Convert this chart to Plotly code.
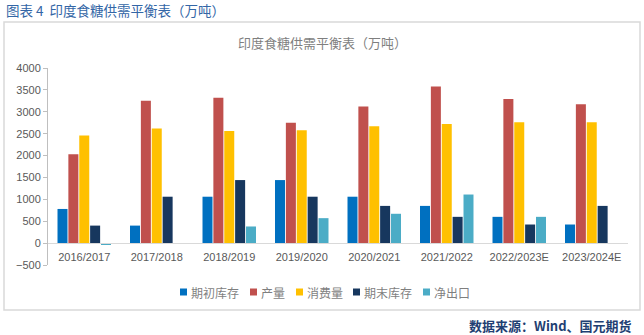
import plotly.graph_objects as go

categories = ["2016/2017", "2017/2018", "2018/2019", "2019/2020", "2020/2021",
              "2021/2022", "2022/2023E", "2023/2024E"]
opening_stock = [780, 400, 1060, 1440, 1060, 850, 600, 425]
production = [2030, 3250, 3320, 2750, 3120, 3580, 3290, 3170]
consumption = [2460, 2620, 2560, 2580, 2670, 2720, 2760, 2760]
closing_stock = [400, 1060, 1440, 1060, 850, 600, 425, 850]
net_export = [-30, -20, 380, 570, 670, 1110, 600, 0]

series_names = ["期初库存", "产量", "消费量", "期末库存", "净出口"]
series_values = [opening_stock, production, consumption, closing_stock, net_export]
colors = ["#0070C0", "#C0504D", "#FFC000", "#17375E", "#4BACC6"]

y_ticks = [-500, 0, 500, 1000, 1500, 2000, 2500, 3000, 3500, 4000]

# plot-area geometry in pixels (for converting paper coordinates)
L, R, T, B = 48, 628, 68, 265
W, H = R - L, B - T


def px(xp):
    return (xp - L) / W


def py(yp):
    return (B - yp) / H


fig = go.Figure()
for name, vals, col in zip(series_names, series_values, colors):
    fig.add_trace(go.Bar(x=categories, y=vals, name=name, marker_color=col,
                         marker_line_width=0, showlegend=False))

font_cjk = "Noto Sans CJK SC"

# custom legend (small squares + labels), matching the reference's compact legend
legend_x = [180, 250, 296, 353, 423]
shapes = [dict(type="rect", xref="paper", yref="paper",
               x0=px(4), x1=px(640), y0=py(310), y1=py(22),
               line=dict(color="#D9D9D9", width=1.5), fillcolor="rgba(0,0,0,0)",
               layer="below")]
annotations = []
for name, col, lx in zip(series_names, colors, legend_x):
    shapes.append(dict(type="rect", xref="paper", yref="paper",
                       x0=px(lx), x1=px(lx + 7), y0=py(295.5), y1=py(288.5),
                       line=dict(width=0), fillcolor=col))
    annotations.append(dict(text=name, xref="paper", yref="paper", x=px(lx + 9),
                            y=py(292), xanchor="left", yanchor="middle",
                            showarrow=False,
                            font=dict(size=12, color="#7F7F7F", family=font_cjk)))

annotations += [
    dict(text="图表 4  印度食糖供需平衡表（万吨）", xref="paper", yref="paper",
         x=px(4), y=py(10), xanchor="left", yanchor="middle",
         showarrow=False, font=dict(size=13.5, color="#3366A6", family=font_cjk)),
    dict(text="印度食糖供需平衡表（万吨）", xref="paper", yref="paper",
         x=px(322), y=py(43), xanchor="center", yanchor="middle",
         showarrow=False, font=dict(size=13, color="#7F7F7F", family=font_cjk)),
    dict(text="<b>数据来源：Wind、国元期货</b>", xref="paper", yref="paper",
         x=px(634), y=py(325), xanchor="right", yanchor="middle",
         showarrow=False, font=dict(size=13, color="#1F3F73", family=font_cjk)),
]

fig.update_layout(
    width=644, height=335,
    margin=dict(l=L, r=644 - R, t=T, b=335 - B),
    paper_bgcolor="white", plot_bgcolor="white",
    barmode="group", bargap=0.25, bargroupgap=0.08,
    font=dict(family=font_cjk, size=11, color="#595959"),
    showlegend=False,
    xaxis=dict(anchor="free", position=500 / 4500, showline=True, linecolor="#D9D9D9",
               linewidth=1, ticks="", ticklabelstandoff=4,
               tickfont=dict(size=11, color="#595959", family="Liberation Sans")),
    yaxis=dict(range=[-500, 4000], tickvals=y_ticks, showgrid=False, zeroline=False,
               showline=True, linecolor="#BFBFBF", ticks="outside", ticklen=4,
               tickcolor="#BFBFBF",
               tickfont=dict(size=11, color="#595959", family="Liberation Sans")),
    shapes=shapes,
    annotations=annotations,
)

fig.write_html("out.html")
